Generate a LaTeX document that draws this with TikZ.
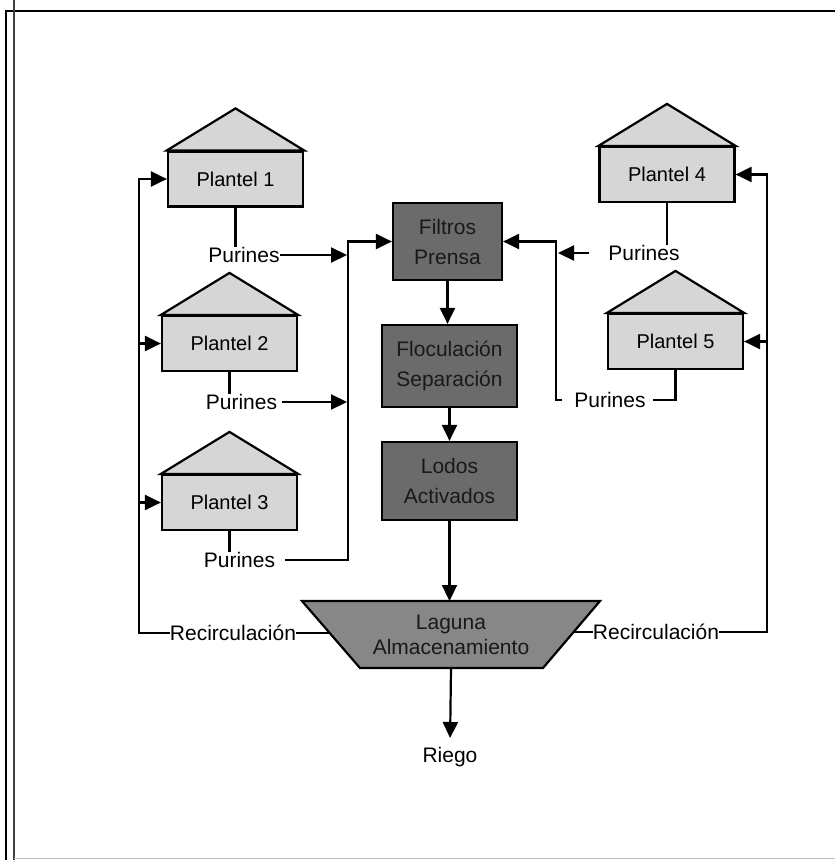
\documentclass[tikz,border=0pt]{standalone}
\usepackage{fontspec}
\setmainfont{Liberation Sans}
\usetikzlibrary{arrows.meta}
\definecolor{plantgray}{HTML}{D6D6D6}
\definecolor{procgray}{HTML}{6B6B6B}
\definecolor{laggray}{HTML}{878787}
\begin{document}
\begin{tikzpicture}[x=1pt,y=-1pt,
  conn/.style={line width=2.2pt, draw=black},
  arr/.style={conn, -{Triangle[length=16pt,width=15pt]}},
  house/.style={draw=black, line width=2.2pt, fill=plantgray, minimum width=135pt, minimum height=55pt, inner sep=0pt, font=\fontsize{20}{24}\selectfont},
  roof/.style={draw=black, line width=2.2pt, fill=plantgray, line join=miter},
  proc/.style={draw=black, line width=2.2pt, fill=procgray, minimum width=135pt, inner sep=0pt, align=center, font=\fontsize{21}{30}\selectfont, text=black!90},
  lbl/.style={inner sep=0pt, font=\fontsize{21}{24}\selectfont}
]
\useasboundingbox (0,0) rectangle (835,860);

% frame
\draw[line width=2.4pt, black] (6,860) -- (6,11) -- (835,11);
\draw[line width=1.4pt, black!75] (14,0) -- (14,860);
\draw[line width=1pt, black!25] (14,858) -- (835,858);

% plantel houses
\node[house] (p1) at (235.5,179) {Plantel 1};
\node[house] (p2) at (229.5,343.5) {Plantel 2};
\node[house] (p3) at (229.5,502.5) {Plantel 3};
\node[house] (p4) at (667,174.5) {Plantel 4};
\node[house] (p5) at (675.5,341.5) {Plantel 5};
\foreach \p in {p1,p2,p3,p4,p5}{
  \filldraw[roof] (\p.north west) -- ([yshift=42pt]\p.north) -- (\p.north east) -- cycle;
}

% process boxes
\node[proc, minimum width=109pt, minimum height=77pt] (fil) at (447.5,241.5) {Filtros\\Prensa};
\node[proc, minimum height=82pt] (flo) at (449.5,366) {Floculación\\Separación};
\node[proc, minimum height=78pt] (lod) at (449.5,481) {Lodos\\Activados};

% laguna trapezoid
\coordinate (lagTL) at (302,601);
\coordinate (lagTR) at (600,601);
\coordinate (lagBR) at (543,668);
\coordinate (lagBL) at (360,668);
\filldraw[draw=black, line width=2.2pt, fill=laggray] (lagTL) -- (lagTR) -- (lagBR) -- (lagBL) -- cycle;
\node[align=center, font=\fontsize{21}{25}\selectfont, inner sep=0pt, text=black!90] (lag) at (451,634.5) {Laguna\\Almacenamiento};
\coordinate (lagT) at (451,601);
\coordinate (lagB) at (451,668);
\coordinate (lagL) at (330,633);
\coordinate (lagR) at (573,632);

% labels
\node[lbl] (pu1) at (244,255) {Purines};
\node[lbl] (pu2) at (241.5,402) {Purines};
\node[lbl] (pu3) at (239.5,560) {Purines};
\node[lbl] (pu4) at (644,253) {Purines};
\node[lbl] (pu5) at (610,400) {Purines};
\node[lbl] (rec1) at (233,633) {Recirculación};
\node[lbl] (rec2) at (656,632) {Recirculación};
\node[lbl] (riego) at (450,757) {Riego};

% left recirculation
\coordinate (lc) at (139,633);
\draw[conn] (lagL) -- (rec1.east);
\draw[arr] (rec1.west) -- (lc) |- (p1.west);
\draw[arr] (lc |- p2.west) -- (p2.west);
\draw[arr] (lc |- p3.west) -- (p3.west);

% right recirculation
\coordinate (rc) at (767,632);
\draw[conn] (lagR) -- (rec2.west);
\draw[arr] (rec2.east) -- (rc) |- (p4.east);
\draw[arr] (rc |- p5.east) -- (p5.east);

% left purines collector
\coordinate (lb) at (348,560);
\draw[conn] (p1.south) -- (p1.south |- pu1.north);
\draw[arr, shorten >=1pt] (pu1.east) -- (pu1.east -| lb);
\draw[conn] (p2.south) -- (p2.south |- pu2.north);
\draw[arr, shorten <=5pt, shorten >=1pt] (pu2.east) -- (pu2.east -| lb);
\draw[conn] (p3.south) -- (p3.south |- pu3.north);
\draw[arr, shorten <=10pt] (pu3.east) -- (lb) |- (fil.west);

% right purines collector
\coordinate (rb) at (556,400);
\draw[conn] (p4.south) -- (p4.south |- pu4.north);
\draw[arr, shorten <=19pt, shorten >=2pt] (pu4.west) -- (pu4.west -| rb);
\draw[conn, shorten >=7pt] (p5.south) |- (pu5.east);
\draw[arr, shorten <=12pt] (pu5.west) -- (rb) |- (fil.east);

% process flow
\draw[arr] (fil.south) -- (fil.south |- flo.north);
\draw[arr] (flo.south) -- (lod.north);
\draw[arr] (lod.south) -- (lod.south |- lagT);
\draw[arr, shorten >=9pt] (lagB) -- (riego.north);
\end{tikzpicture}
\end{document}
